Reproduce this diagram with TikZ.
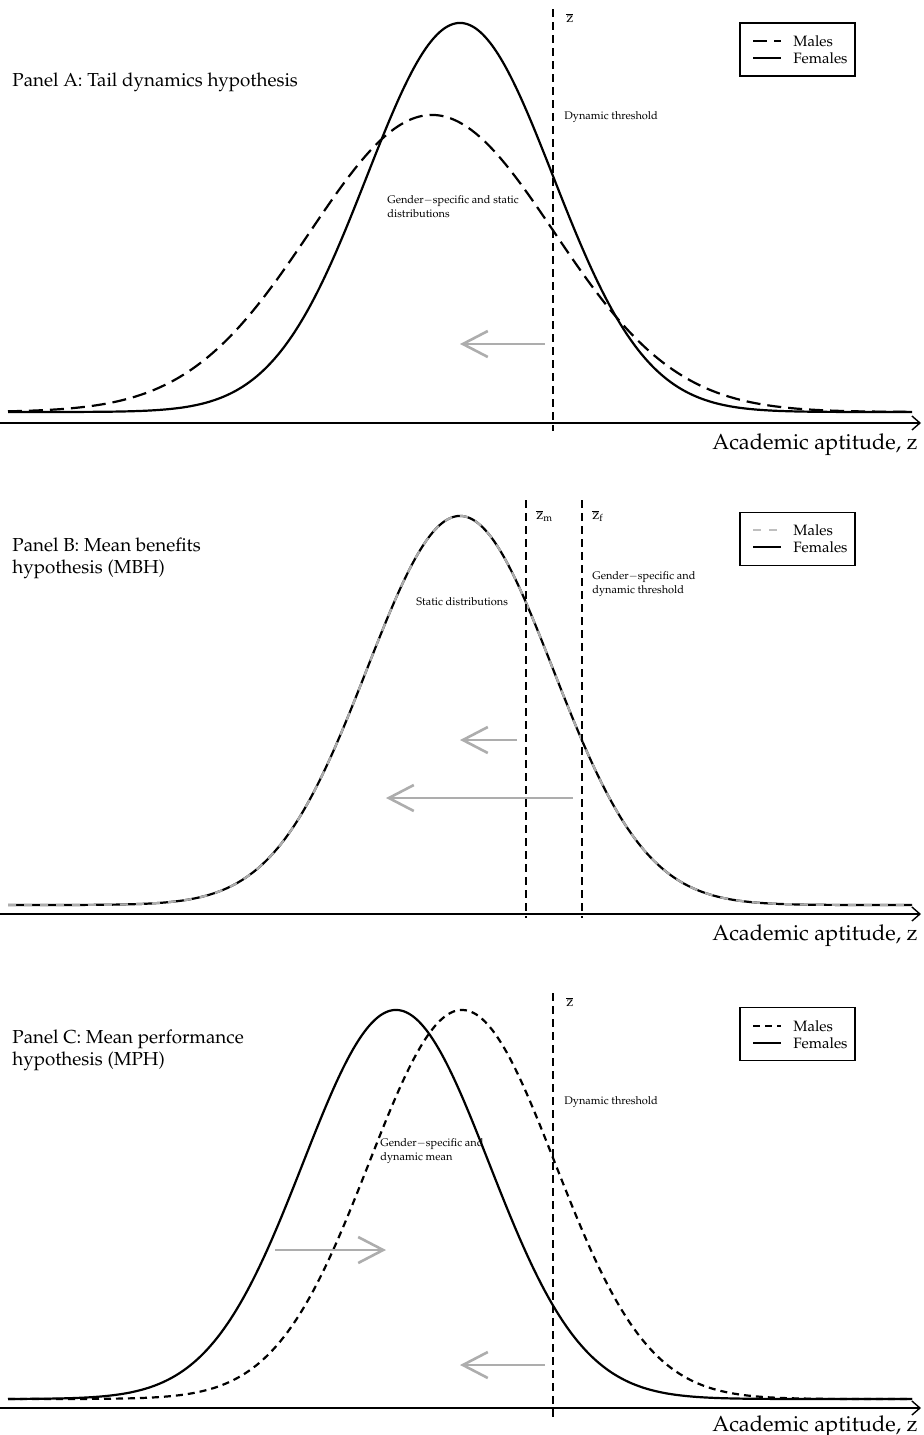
\documentclass[tikz,border=0pt]{standalone}
\usepackage{amsmath}
\usepackage[T1]{fontenc}
\usepackage{mathpazo}
\usepackage{tikz}
\usetikzlibrary{arrows.meta}
\usetikzlibrary{positioning}
\definecolor{arrowgray}{rgb}{0.68,0.68,0.68}
\definecolor{legendgray}{rgb}{0.75,0.75,0.75}

\tikzset{
  gaussline/.style={line width=1.1pt},
  maledash/.style={gaussline,dash pattern=on 7pt off 3.5pt},
  maledot/.style={gaussline,dash pattern=on 3.5pt off 2.5pt},
  malegray/.style={gaussline,draw=arrowgray,dash pattern=on 4pt off 4pt},
  threshline/.style={line width=0.7pt,dash pattern=on 4pt off 2.5pt},
  movearrow/.style={draw=arrowgray,line width=1.3pt,-{Straight Barb[length=12.5pt,width=13pt]}},
  xaxis/.style={line width=0.7pt,-{Straight Barb[length=4pt,width=7pt]}},
  legendframe/.style={draw,line width=0.7pt,minimum width=57.5pt,minimum height=26.5pt,inner sep=0pt},
  legendtext/.style={anchor=west,inner sep=0pt,font=\fontsize{7.5}{8.5}\selectfont},
  paneltitle/.style={inner sep=0pt,align=left,font=\fontsize{9.4}{11}\selectfont},
  smalltext/.style={anchor=north west,inner sep=0pt,align=left,font=\fontsize{5.5}{7}\selectfont},
  barlabel/.style={anchor=west,inner sep=0pt,font=\fontsize{7}{8}\selectfont},
  axistext/.style={anchor=base east,inner sep=0pt,font=\fontsize{10.9}{13}\selectfont}
}

\begin{document}
\begin{tikzpicture}[x=0.5pt,y=-0.5pt,
  declare function={bell(\x,\m,\s,\h)=\h*exp(-0.5*((\x-\m)/\s)^2);}]
\useasboundingbox (0,0) rectangle (923,1435);

% x axes of the three panels
\foreach \ya/\yl in {423/449,914/940,1408/1431} {
    \draw[xaxis] (0,\ya) -- (921,\ya);
    \node[axistext] at (918,\yl) {Academic aptitude, z};
}

%%% Panel A
\draw[gaussline] plot[domain=8:912,samples=200,smooth] (\x,{412-bell(\x,460,93,389)});
\draw[maledash] plot[domain=8:912,samples=200,smooth] (\x,{412-bell(\x,432,122,297)});
\draw[threshline] (553,9) -- (553,431);
\node[barlabel] (zbarA) at (566,18) {$\overline{\mathrm{z}}$};
\node[smalltext] (dynA) at (564,111) {Dynamic threshold};
\node[smalltext] (distA) at (387,195) {Gender$-$specific and static\\distributions};
\node[paneltitle,anchor=base west] (titleA) at (12,86) {Panel A: Tail dynamics hypothesis};
\coordinate (fromA) at (545,344);
\coordinate (toA) at (460,344);
\draw[movearrow] (fromA) -- (toA);
% legend
\node[legendframe] (legA) at (797.5,49.5) {};
\draw[maledash] (753,41) -- (781,41);
\draw[gaussline] (753,58) -- (781,58);
\node[legendtext] (mA) at (793,41) {Males};
\node[legendtext] (fA) at (793,58) {Females};

%%% Panel B
\draw[gaussline] plot[domain=8:912,samples=200,smooth] (\x,{905-bell(\x,460,93,389)});
\draw[malegray] plot[domain=8:912,samples=200,smooth] (\x,{905-bell(\x,460,93,389)});
\draw[threshline] (526,500) -- (526,918);
\draw[threshline] (582,500) -- (582,918);
\node[barlabel] (zbarM) at (536,516) {$\overline{\mathrm{z}}_{\mathrm{m}}$};
\node[barlabel] (zbarF) at (592,516) {$\overline{\mathrm{z}}_{\mathrm{f}}$};
\node[smalltext] (dynB) at (592,571) {Gender$-$specific and\\dynamic threshold};
\node[smalltext] (distB) at (416,597) {Static distributions};
\node[paneltitle,anchor=north west] (titleB) at (12,537) {Panel B: Mean benefits\\hypothesis (MBH)};
\coordinate (fromBm) at (517,740);
\coordinate (toBm) at (460,740);
\coordinate (fromBf) at (573,798);
\coordinate (toBf) at (386,798);
\draw[movearrow] (fromBm) -- (toBm);
\draw[movearrow] (fromBf) -- (toBf);
% legend
\node[legendframe] (legB) at (797.5,539) {};
\draw[gaussline,draw=legendgray,dash pattern=on 4pt off 4pt] (753,530) -- (781,530);
\draw[gaussline] (753,547) -- (781,547);
\node[legendtext] (mB) at (793,530) {Males};
\node[legendtext] (fB) at (793,547) {Females};

%%% Panel C
\draw[gaussline] plot[domain=8:912,samples=200,smooth] (\x,{1399-bell(\x,396,93,389)});
\draw[maledot] plot[domain=8:912,samples=200,smooth] (\x,{1399-bell(\x,462,93,389)});
\draw[threshline] (553,993) -- (553,1418);
\node[barlabel] (zbarC) at (566,1002) {$\overline{\mathrm{z}}$};
\node[smalltext] (dynC) at (564,1096) {Dynamic threshold};
\node[smalltext] (meanC) at (380,1138) {Gender$-$specific and\\dynamic mean};
\node[paneltitle,anchor=north west] (titleC) at (12,1029) {Panel C: Mean performance\\hypothesis (MPH)};
\coordinate (fromCf) at (275,1250);
\coordinate (toCf) at (386,1250);
\coordinate (fromCt) at (545,1365);
\coordinate (toCt) at (460,1365);
\draw[movearrow] (fromCf) -- (toCf);
\draw[movearrow] (fromCt) -- (toCt);
% legend
\node[legendframe] (legC) at (797.5,1034) {};
\draw[maledot] (753,1026) -- (781,1026);
\draw[gaussline] (753,1043) -- (781,1043);
\node[legendtext] (mC) at (793,1026) {Males};
\node[legendtext] (fC) at (793,1043) {Females};

\end{tikzpicture}
\end{document}
